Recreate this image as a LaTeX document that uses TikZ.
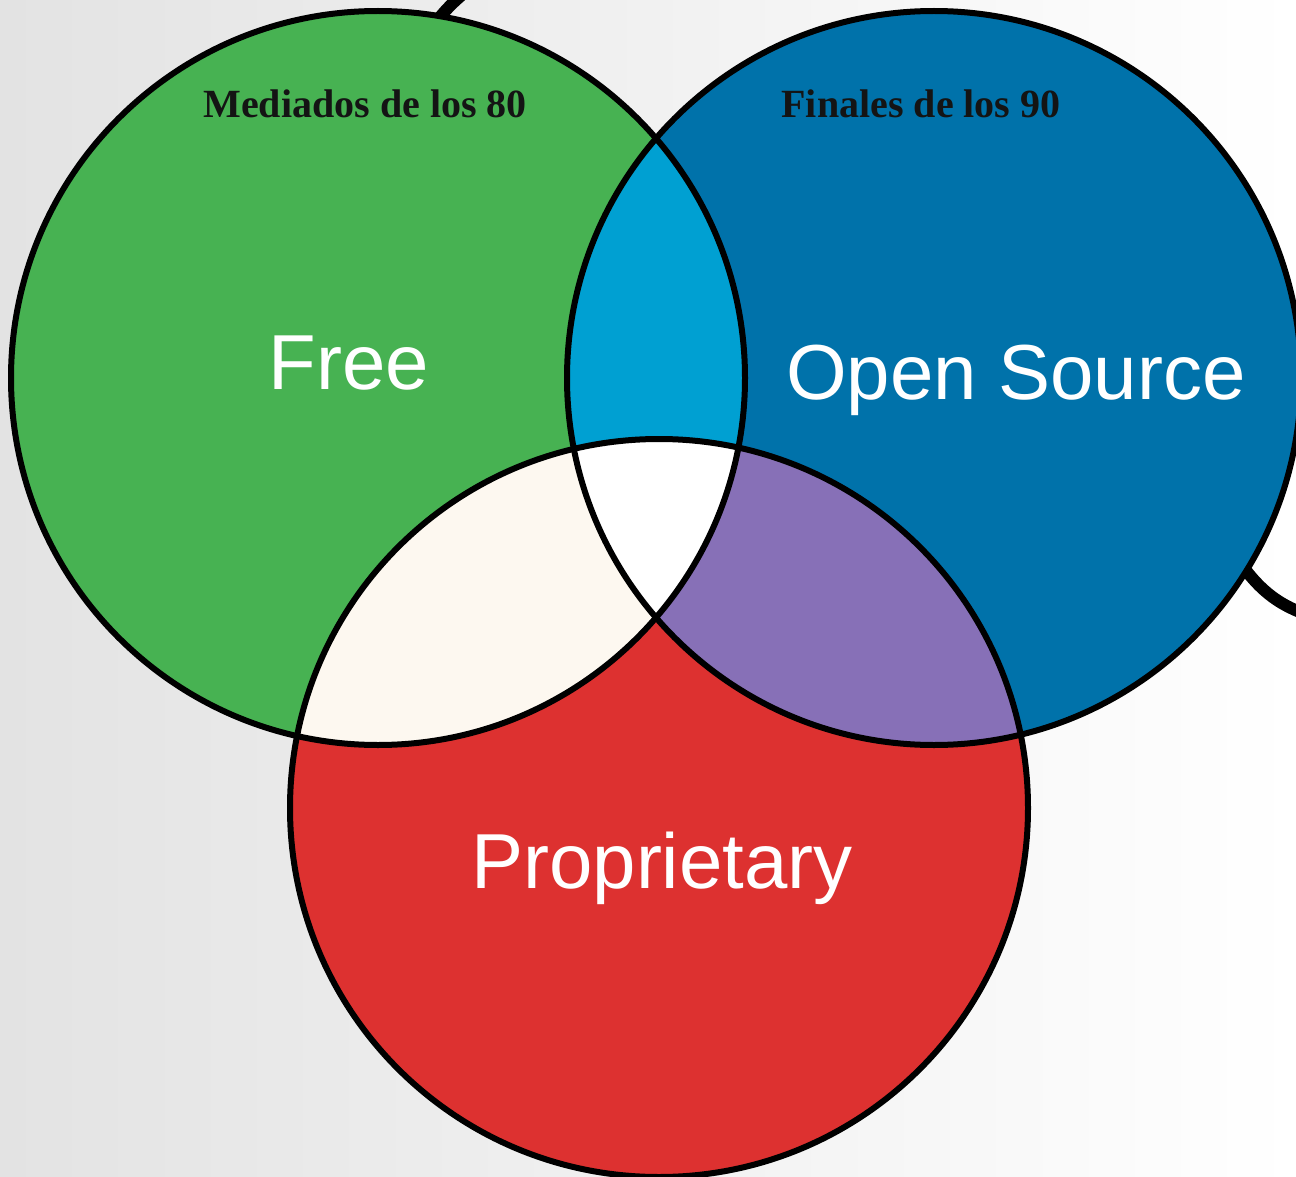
\documentclass[tikz,border=0pt]{standalone}
\usepackage{fontspec}
\setmainfont{Liberation Serif}
\newfontfamily\labelfont{Liberation Sans}
\definecolor{cgreen}{RGB}{71,178,82}
\definecolor{cblue}{RGB}{0,114,170}
\definecolor{clblue}{RGB}{0,160,210}
\definecolor{ccream}{RGB}{253,248,240}
\definecolor{cpurple}{RGB}{135,112,183}
\definecolor{cred}{RGB}{221,49,48}
\begin{document}
\begin{tikzpicture}[x=1pt,y=-1pt,
  ring/.style={draw=black,line width=6pt},
  biglabel/.style={text=white,font=\labelfont\fontsize{78}{80}\selectfont,inner sep=0pt,anchor=base},
  datelabel/.style={text=black!92,font=\bfseries\fontsize{40}{42}\selectfont,inner sep=0pt,anchor=base},
  hookline/.style={draw=black,line width=12pt}]
\useasboundingbox (0,0) rectangle (1296,1177);
\shade[left color=black!11,right color=white] (0,0) rectangle (1296,1177);
\coordinate (G) at (378,378);
\coordinate (B) at (934,378);
\coordinate (R) at (659,808);
% black strokes behind circles
\coordinate (t1) at (428,34);
\coordinate (t2) at (468,-10);
\draw[hookline] (t1) .. controls (438,18) and (450,4) .. (t2);
\coordinate (r1) at (1235,555);
\coordinate (r2) at (1305,614);
\draw[hookline] (r1) .. controls (1258,590) and (1278,604) .. (r2);
% circles
\fill[cgreen] (G) circle (367);
\fill[cblue] (B) circle (367);
\fill[cred] (R) circle (369);
\begin{scope}
  \clip (G) circle (367);
  \fill[clblue] (B) circle (367);
  \fill[ccream] (R) circle (369);
\end{scope}
\begin{scope}
  \clip (B) circle (367);
  \fill[cpurple] (R) circle (369);
\end{scope}
\begin{scope}
  \clip (G) circle (367);
  \clip (B) circle (367);
  \fill[white] (R) circle (369);
\end{scope}
\draw[ring] (G) circle (367);
\draw[ring] (B) circle (367);
\draw[ring] (R) circle (369);
% labels
\node[biglabel] (free) at (349,389) {Free};
\node[biglabel] (open) at (1016,399) {Open Source};
\node[biglabel] (prop) at (662,888) {Proprietary};
\node[datelabel] (mid) at (365,118) {Mediados de los 80};
\node[datelabel] (fin) at (921,118) {Finales de los 90};
\end{tikzpicture}
\end{document}
